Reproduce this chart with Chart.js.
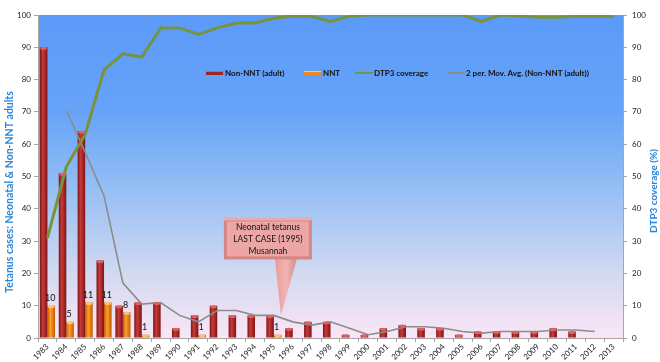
<!DOCTYPE html>
<html>
<head>
<meta charset="utf-8">
<title>Tetanus cases and DTP3 coverage</title>
<script src="https://cdn.jsdelivr.net/npm/chart.js@4.4.0/dist/chart.umd.min.js"></script>
<style>
  html, body { margin: 0; padding: 0; background: #fff; }
  #wrap { position: relative; width: 660px; height: 362px; }
</style>
</head>
<body>
<div id="wrap"><canvas id="myChart" width="660" height="362"></canvas></div>
<script>
// values
var years = ['1983','1984','1985','1986','1987','1988','1989','1990','1991','1992','1993','1994','1995','1996','1997','1998','1999','2000','2001','2002','2003','2004','2005','2006','2007','2008','2009','2010','2011','2012','2013']
var nonNNT = [90, 51, 64, 24, 10, 11, 11, 3, 7, 10, 7, 7, 7, 3, 5, 5, 1, 1, 3, 4, 3, 3, 1, 2, 2, 2, 2, 3, 2, null, null]
var nnt = [10, 5, 11, 11, 8, 1, null, null, 1, null, null, null, 1, null, null, null, null, null, null, null, null, null, null, null, null, null, null, null, null, null, null]
var dtp3 = [31, 53, 63, 83, 88, 87, 96, 96, 94, 96, 97.5, 97.5, 99, 99.7, 99.5, 98, 99.6, 100, 100, 100, 100, 100, 100, 98, 100, 99.8, 99.3, 99.3, 99.6, 99.6, 99.6]
var movAvg = [null, 70.5, 57.5, 44, 17, 10.5, 11, 7, 5, 8.5, 8.5, 7, 7, 5, 4, 5, 3, 1, 2, 3.5, 3.5, 3, 2, 1.5, 2, 2, 2, 2.5, 2.5, 2, null]
var yTicks = [0, 10, 20, 30, 40, 50, 60, 70, 80, 90, 100]

var legendItems = [
  { label: 'Non-NNT (adult)', type: 'box', color: '#a02424' },
  { label: 'NNT', type: 'box', color: '#f08a1c' },
  { label: 'DTP3 coverage', type: 'line', color: '#77933c' },
  { label: '2 per. Mov. Avg. (Non-NNT (adult))', type: 'line', color: '#8c8c8c' }
]
var calloutLines = ['Neonatal tetanus', 'LAST CASE (1995)', 'Musannah']

var FONT = 'Lato, "Liberation Sans", sans-serif'

// cylinder-ish fill across each bar
function barFill(side, dark, light) {
  return function(ctx) {
    var chart = ctx.chart
    var xs = chart.scales.x
    if (!xs || ctx.type !== 'data') return dark
    var c = xs.getPixelForValue(ctx.dataIndex)
    var w = xs.width / years.length * 0.8 / 2
    if (!isFinite(c) || !isFinite(w) || w <= 0) return dark
    var x0 = side === 0 ? c - w : c
    var g = chart.ctx.createLinearGradient(x0, 0, x0 + w, 0)
    g.addColorStop(0, dark)
    g.addColorStop(0.4, light)
    g.addColorStop(1, dark)
    return g
  }
}

var extras = {
  id: 'extras',
  beforeDraw: function(chart) {
    var a = chart.chartArea
    var ctx = chart.ctx
    var g = ctx.createLinearGradient(0, a.top, 0, a.bottom)
    g.addColorStop(0, '#5c9af8')
    g.addColorStop(0.3, '#66a3f8')
    g.addColorStop(0.55, '#98c0f4')
    g.addColorStop(0.8, '#d2d9f0')
    g.addColorStop(1, '#fae6f6')
    ctx.save()
    ctx.fillStyle = g
    ctx.fillRect(a.left, a.top, a.right - a.left, a.bottom - a.top)
    ctx.restore()
  },
  afterDatasetsDraw: function(chart) {
    var ctx = chart.ctx
    ctx.save()
    // light caps on bar tops
    ;[0, 1].forEach(function(di) {
      var meta = chart.getDatasetMeta(di)
      meta.data.forEach(function(el, i) {
        var v = chart.data.datasets[di].data[i]
        if (v === null || v === undefined) return
        ctx.beginPath()
        ctx.ellipse(el.x, el.y + 1, Math.max(el.width / 2 - 0.5, 0.5), 1.5, 0, 0, Math.PI * 2)
        ctx.fillStyle = di === 0 ? '#e06060' : '#ffc070'
        ctx.fill()
      })
    })
    // NNT value labels
    var meta = chart.getDatasetMeta(1)
    ctx.font = '9px ' + FONT
    ctx.fillStyle = '#111'
    ctx.textAlign = 'center'
    ctx.textBaseline = 'bottom'
    meta.data.forEach(function(el, i) {
      var v = nnt[i]
      if (v === null) return
      ctx.fillText(String(v), el.x - 1, el.y - 3)
    })
    ctx.restore()
  },
  afterDraw: function(chart) {
    var ctx = chart.ctx
    ctx.save()

    // axis titles
    ctx.fillStyle = '#2a86d8'
    ctx.textAlign = 'center'
    ctx.textBaseline = 'middle'
    ctx.font = 'bold 10.5px ' + FONT
    ctx.save()
    ctx.translate(10, 192)
    ctx.rotate(-Math.PI / 2)
    ctx.fillText('Tetanus cases: Neonatal & Non-NNT adults', 0, 0)
    ctx.restore()
    ctx.font = 'bold 10px ' + FONT
    ctx.save()
    ctx.translate(654, 191)
    ctx.rotate(-Math.PI / 2)
    ctx.fillText('DTP3 coverage (%)', 0, 0)
    ctx.restore()

    // legend inside the plot
    ctx.font = 'bold 8px ' + FONT
    ctx.textAlign = 'left'
    ctx.textBaseline = 'middle'
    var lx = [206, 304, 355, 447]
    var ly = 73
    legendItems.forEach(function(it, i) {
      var x = lx[i]
      if (it.type === 'box') {
        ctx.fillStyle = it.color
        ctx.fillRect(x, ly - 2, 17, 4)
        ctx.fillStyle = i === 0 ? '#e06060' : '#ffc070'
        ctx.fillRect(x, ly - 2, 17, 1)
      } else {
        ctx.strokeStyle = it.color
        ctx.lineWidth = 2
        ctx.beginPath()
        ctx.moveTo(x, ly)
        ctx.lineTo(x + 18, ly)
        ctx.stroke()
      }
      ctx.fillStyle = '#111'
      ctx.fillText(it.label, x + 19, ly)
    })

    // callout pointing at 1995
    var xs = chart.scales.x
    var ys = chart.scales.y
    var tx = xs.getPixelForValue(12) + 7
    var ty = ys.getPixelForValue(movAvg[12])
    var bx = tx - 57, by = ty - 97, bw = 88, bh = 41
    ctx.beginPath()
    ctx.moveTo(tx - 6, by + bh - 1)
    ctx.lineTo(tx, ty)
    ctx.lineTo(tx + 16, by + bh - 1)
    ctx.closePath()
    var pg = ctx.createLinearGradient(tx - 6, 0, tx + 16, 0)
    pg.addColorStop(0, '#e79a9a')
    pg.addColorStop(0.5, '#f2b4b4')
    pg.addColorStop(1, '#d98a8a')
    ctx.fillStyle = pg
    ctx.fill()
    ctx.fillStyle = '#d48686'
    ctx.fillRect(bx, by, bw, bh)
    ctx.fillStyle = '#f0b0b0'
    ctx.fillRect(bx, by, bw, 2)
    ctx.fillStyle = '#eca6a6'
    ctx.fillRect(bx + 3, by + 3, bw - 6, bh - 6)
    ctx.font = '8.5px ' + FONT
    ctx.fillStyle = '#111'
    ctx.textAlign = 'center'
    ctx.textBaseline = 'middle'
    calloutLines.forEach(function(t, i) {
      ctx.fillText(t, bx + bw / 2, by + 9 + i * 12)
    })
    ctx.restore()
  }
}

var ctx = document.getElementById('myChart').getContext('2d')
var myChart = new Chart(ctx, {
  type: 'bar',
  data: {
    labels: years,
    datasets: [{
      label: 'Non-NNT (adult)',
      data: nonNNT,
      yAxisID: 'y',
      order: 3,
      backgroundColor: barFill(0, '#7e1414', '#c83a3a'),
      categoryPercentage: 0.8,
      barPercentage: 1.0
    }, {
      label: 'NNT',
      data: nnt,
      yAxisID: 'y',
      order: 3,
      backgroundColor: barFill(1, '#c45a00', '#ffa02a'),
      categoryPercentage: 0.8,
      barPercentage: 1.0
    }, {
      type: 'line',
      label: 'DTP3 coverage',
      data: dtp3,
      yAxisID: 'y1',
      order: 1,
      borderColor: '#77933c',
      borderWidth: 3,
      pointRadius: 0,
      tension: 0,
      fill: false
    }, {
      type: 'line',
      label: '2 per. Mov. Avg. (Non-NNT (adult))',
      data: movAvg,
      yAxisID: 'y',
      order: 2,
      borderColor: '#8c8c8c',
      borderWidth: 1.6,
      pointRadius: 0,
      tension: 0,
      fill: false
    }]
  },
  options: {
    responsive: false,
    animation: false,
    layout: { padding: { top: 15, left: 0, right: 0, bottom: 0 } },
    plugins: {
      legend: { display: false },
      tooltip: { enabled: false }
    },
    scales: {
      x: {
        offset: true,
        grid: { drawOnChartArea: false, offset: true, tickLength: 4, color: '#a6a6a6' },
        border: { color: '#a6a6a6' },
        ticks: { autoSkip: false, maxRotation: 45, minRotation: 45, padding: 0, color: '#222', font: { family: FONT, size: 8 } },
        afterFit: function(s) { s.height = 24 }
      },
      y: {
        position: 'left',
        min: 0,
        max: 100,
        afterBuildTicks: function(s) { s.ticks = yTicks.map(function(v) { return { value: v } }) },
        grid: { drawOnChartArea: false, tickLength: 4, color: '#a6a6a6' },
        border: { color: '#a6a6a6' },
        ticks: { padding: 3, color: '#222', font: { family: FONT, size: 8 } },
        afterFit: function(s) { s.width = 38 }
      },
      y1: {
        position: 'right',
        min: 0,
        max: 100,
        afterBuildTicks: function(s) { s.ticks = yTicks.map(function(v) { return { value: v } }) },
        grid: { drawOnChartArea: false, tickLength: 4, color: '#a6a6a6' },
        border: { color: '#a6a6a6' },
        ticks: { padding: 5, color: '#222', font: { family: FONT, size: 8 } },
        afterFit: function(s) { s.width = 37 }
      }
    }
  },
  plugins: [extras]
})
</script>
</body>
</html>
